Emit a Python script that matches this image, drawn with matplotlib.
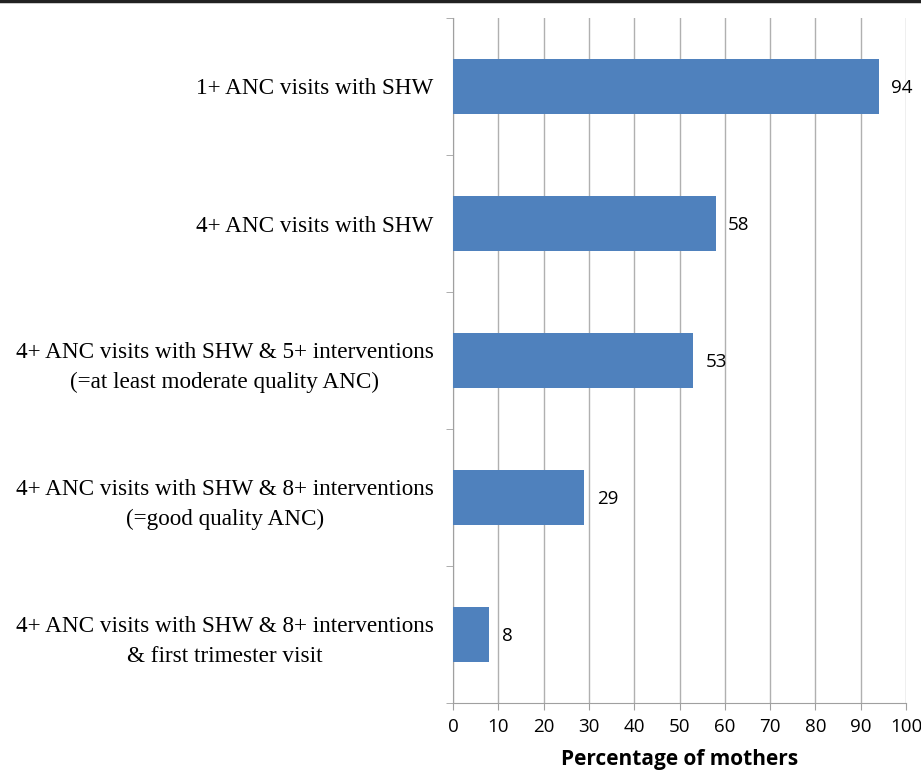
import matplotlib.pyplot as plt
import matplotlib.lines as mlines
import numpy as np

categories = [
    "1+ ANC visits with SHW",
    "4+ ANC visits with SHW",
    "4+ ANC visits with SHW & 5+ interventions\n(=at least moderate quality ANC)",
    "4+ ANC visits with SHW & 8+ interventions\n(=good quality ANC)",
    "4+ ANC visits with SHW & 8+ interventions\n& first trimester visit",
]
values = [94, 58, 53, 29, 8]
xticks = [0, 10, 20, 30, 40, 50, 60, 70, 80, 90, 100]

fig = plt.figure(figsize=(9.21, 7.7), dpi=100)
ax = fig.add_axes([453 / 921, 1 - 703 / 770, 453 / 921, 685 / 770])

pos = np.arange(len(categories))[::-1]
ax.barh(pos, values, height=0.4, color="#4F81BD", zorder=3)

for y, v in zip(pos, values):
    ax.annotate(str(v), xy=(v, y), xytext=(9, -1), textcoords="offset points",
                va="center", ha="left", fontsize=13.5, family="Open Sans")

ax.set_xlim(0, 100)
ax.set_ylim(-0.5, len(categories) - 0.5)
ax.set_xticks(xticks)
ax.set_xticklabels([str(t) for t in xticks], family="Open Sans", fontsize=13.5)
ax.set_yticks(pos)
ax.set_yticklabels(categories, family="Liberation Serif", fontsize=16.7,
                   linespacing=1.55, multialignment="center")
ax.tick_params(axis="y", which="major", length=0, pad=14)
ax.set_yticks(np.arange(-0.5, len(categories)), minor=True)
ax.tick_params(axis="y", which="minor", length=5, color="#A0A0A0")
ax.tick_params(axis="x", length=5, color="#A0A0A0", pad=6)

ax.grid(axis="x", color="#B0B0B0", linewidth=1, zorder=0)
for s in ["top", "right"]:
    ax.spines[s].set_visible(False)
for s in ["left", "bottom"]:
    ax.spines[s].set_color("#A0A0A0")

ax.set_xlabel("Percentage of mothers", family="Open Sans", fontsize=15,
              fontweight="bold", labelpad=9)

fig.add_artist(mlines.Line2D([0, 1], [0.999, 0.999], color="#222222",
                             linewidth=2.5, transform=fig.transFigure))

fig.savefig("out.png", dpi=100)
